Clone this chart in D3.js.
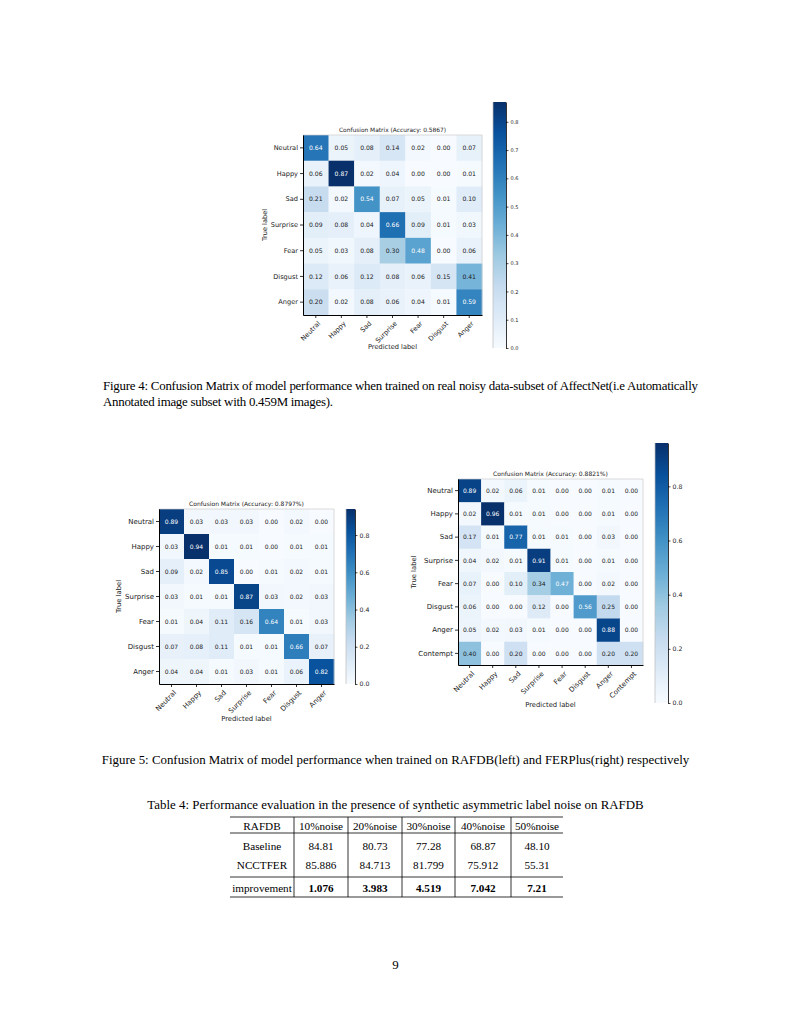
<!DOCTYPE html>
<html>
<head>
<meta charset="utf-8">
<script src="https://cdn.jsdelivr.net/npm/d3@7/dist/d3.min.js"></script>
<style>
  html, body { margin: 0; padding: 0; background: #fff; }
  svg { display: block; }
</style>
</head>
<body>
<svg id="page" width="791" height="1024"></svg>
<script>
// ---------------- DATA ----------------
const labels7 = ["Neutral", "Happy", "Sad", "Surprise", "Fear", "Disgust", "Anger"];
const labels8 = ["Neutral", "Happy", "Sad", "Surprise", "Fear", "Disgust", "Anger", "Contempt"];

const affectnetTitle = "Confusion Matrix (Accuracy: 0.5867)";
const affectnetValues = [
  [0.64, 0.05, 0.08, 0.14, 0.02, 0.00, 0.07],
  [0.06, 0.87, 0.02, 0.04, 0.00, 0.00, 0.01],
  [0.21, 0.02, 0.54, 0.07, 0.05, 0.01, 0.10],
  [0.09, 0.08, 0.04, 0.66, 0.09, 0.01, 0.03],
  [0.05, 0.03, 0.08, 0.30, 0.48, 0.00, 0.06],
  [0.12, 0.06, 0.12, 0.08, 0.06, 0.15, 0.41],
  [0.20, 0.02, 0.08, 0.06, 0.04, 0.01, 0.59]
];
const affectnetColorbarTicks = [0.0, 0.1, 0.2, 0.3, 0.4, 0.5, 0.6, 0.7, 0.8];

const rafdbTitle = "Confusion Matrix (Accuracy: 0.8797%)";
const rafdbValues = [
  [0.89, 0.03, 0.03, 0.03, 0.00, 0.02, 0.00],
  [0.03, 0.94, 0.01, 0.01, 0.00, 0.01, 0.01],
  [0.09, 0.02, 0.85, 0.00, 0.01, 0.02, 0.01],
  [0.03, 0.01, 0.01, 0.87, 0.03, 0.02, 0.03],
  [0.01, 0.04, 0.11, 0.16, 0.64, 0.01, 0.03],
  [0.07, 0.08, 0.11, 0.01, 0.01, 0.66, 0.07],
  [0.04, 0.04, 0.01, 0.03, 0.01, 0.06, 0.82]
];
const rafdbColorbarTicks = [0.0, 0.2, 0.4, 0.6, 0.8];

const ferplusTitle = "Confusion Matrix (Accuracy: 0.8821%)";
const ferplusValues = [
  [0.89, 0.02, 0.06, 0.01, 0.00, 0.00, 0.01, 0.00],
  [0.02, 0.96, 0.01, 0.01, 0.00, 0.00, 0.01, 0.00],
  [0.17, 0.01, 0.77, 0.01, 0.01, 0.00, 0.03, 0.00],
  [0.04, 0.02, 0.01, 0.91, 0.01, 0.00, 0.01, 0.00],
  [0.07, 0.00, 0.10, 0.34, 0.47, 0.00, 0.02, 0.00],
  [0.06, 0.00, 0.00, 0.12, 0.00, 0.56, 0.25, 0.00],
  [0.05, 0.02, 0.03, 0.01, 0.00, 0.00, 0.88, 0.00],
  [0.40, 0.00, 0.20, 0.00, 0.00, 0.00, 0.20, 0.20]
];
const ferplusColorbarTicks = [0.0, 0.2, 0.4, 0.6, 0.8];

const tableCaption = "Table 4: Performance evaluation in the presence of synthetic asymmetric label noise on RAFDB";
const tableHeader = ["RAFDB", "10%noise", "20%noise", "30%noise", "40%noise", "50%noise"];
const tableRowNames = ["Baseline", "NCCTFER", "improvement"];
const tableBaseline = ["84.81", "80.73", "77.28", "68.87", "48.10"];
const tableNcctfer = ["85.886", "84.713", "81.799", "75.912", "55.31"];
const tableImprovement = ["1.076", "3.983", "4.519", "7.042", "7.21"];

const fig4CaptionLine1 = "Figure 4: Confusion Matrix of model performance when trained on real noisy data-subset of AffectNet(i.e Automatically";
const fig4CaptionLine2 = "Annotated image subset with 0.459M images).";
const fig5Caption = "Figure 5: Confusion Matrix of model performance when trained on RAFDB(left) and FERPlus(right) respectively";
const pageNumber = "9";

// ---------------- RENDER ----------------
const svg = d3.select("#page");
svg.append("rect").attr("width", 791).attr("height", 1024).attr("fill", "#fff");

const bluesColors = ["#f7fbff", "#deebf7", "#c6dbef", "#9ecae1", "#6baed6", "#4292c6", "#2171b5", "#08519c", "#08306b"];
const SANS = "'DejaVu Sans', sans-serif";
const SERIF = "'Liberation Serif', 'Times New Roman', serif";
const INK = "#1a1a1a";

let gradId = 0;
function drawMatrix(cfg) {
  const { labels, values, title, ticks } = cfg;
  const vmax = d3.max(values.flat());
  const color = d3.scaleLinear()
    .domain(d3.range(bluesColors.length).map(i => i * vmax / (bluesColors.length - 1)))
    .range(bluesColors)
    .interpolate(d3.interpolateRgb)
    .clamp(true);
  const thresh = cfg.thresh !== undefined ? cfg.thresh : vmax / 2;

  const x = d3.scaleBand().domain(labels).range([cfg.x0, cfg.x1]);
  const y = d3.scaleBand().domain(labels).range([cfg.y0, cfg.y1]);
  const g = svg.append("g");

  const cells = [];
  values.forEach((row, i) => row.forEach((v, j) => cells.push({ r: labels[i], c: labels[j], v })));

  g.selectAll("rect.cell").data(cells).enter().append("rect")
    .attr("class", "cell")
    .attr("x", d => x(d.c)).attr("y", d => y(d.r))
    .attr("width", x.bandwidth() + 0.3).attr("height", y.bandwidth() + 0.3)
    .attr("fill", d => color(d.v));

  g.selectAll("text.val").data(cells).enter().append("text")
    .attr("class", "val")
    .attr("x", d => x(d.c) + x.bandwidth() / 2)
    .attr("y", d => y(d.r) + y.bandwidth() / 2)
    .attr("dy", "0.36em")
    .attr("text-anchor", "middle")
    .attr("font-family", SANS).attr("font-size", cfg.valSize)
    .attr("fill", d => d.v > thresh ? "#fff" : INK)
    .text(d => d.v.toFixed(2));

  // top/right frame (light)
  g.append("path")
    .attr("d", `M${cfg.x0},${cfg.y0}H${cfg.x1}V${cfg.y1}`)
    .attr("fill", "none").attr("stroke", "#ccc").attr("stroke-width", 0.7);

  // left axis
  const ax = g.append("g").attr("transform", `translate(${cfg.x0},0)`)
    .call(d3.axisLeft(y).tickSize(3).tickSizeOuter(0).tickPadding(2));
  ax.select(".domain").attr("stroke", "#000").attr("stroke-width", 1);
  ax.selectAll(".tick line").attr("stroke", "#000").attr("stroke-width", 0.8);
  ax.selectAll(".tick text").attr("font-family", SANS).attr("font-size", cfg.labSize).attr("fill", INK);

  // bottom axis
  const bx = g.append("g").attr("transform", `translate(0,${cfg.y1})`)
    .call(d3.axisBottom(x).tickSize(3).tickSizeOuter(0));
  bx.select(".domain").attr("stroke", "#000").attr("stroke-width", 1);
  bx.selectAll(".tick line").attr("stroke", "#000").attr("stroke-width", 0.8);
  bx.selectAll(".tick text")
    .attr("font-family", SANS).attr("font-size", cfg.labSize).attr("fill", INK)
    .attr("text-anchor", "end")
    .attr("y", 0).attr("dy", 0)
    .attr("transform", `translate(${cfg.labSize * 0.75},${5 + cfg.labSize * 0.6}) rotate(-45)`);

  // title
  g.append("text")
    .attr("x", (cfg.x0 + cfg.x1) / 2).attr("y", cfg.y0 - 3)
    .attr("text-anchor", "middle")
    .attr("font-family", SANS).attr("font-size", cfg.titleSize).attr("fill", INK)
    .text(title);

  // axis labels
  g.append("text")
    .attr("x", (cfg.x0 + cfg.x1) / 2).attr("y", cfg.xlabY)
    .attr("text-anchor", "middle")
    .attr("font-family", SANS).attr("font-size", cfg.axLabSize).attr("fill", INK)
    .text("Predicted label");
  g.append("text")
    .attr("transform", `translate(${cfg.ylabX},${(cfg.y0 + cfg.y1) / 2}) rotate(-90)`)
    .attr("text-anchor", "middle")
    .attr("font-family", SANS).attr("font-size", cfg.axLabSize).attr("fill", INK)
    .text("True label");

  // colorbar
  const id = "cbgrad" + (gradId++);
  const grad = svg.append("defs").append("linearGradient")
    .attr("id", id).attr("x1", 0).attr("y1", 1).attr("x2", 0).attr("y2", 0);
  bluesColors.forEach((c, i) => grad.append("stop")
    .attr("offset", i / (bluesColors.length - 1)).attr("stop-color", c));
  g.append("rect")
    .attr("x", cfg.cbX).attr("y", cfg.cbTop)
    .attr("width", cfg.cbW).attr("height", cfg.cbBottom - cfg.cbTop)
    .attr("fill", `url(#${id})`);
  g.append("path")
    .attr("d", `M${cfg.cbX},${cfg.cbTop}V${cfg.cbBottom}`)
    .attr("stroke", "#bbb").attr("stroke-width", 0.7).attr("fill", "none");
  const cs = d3.scaleLinear().domain([0, vmax]).range([cfg.cbBottom, cfg.cbTop]);
  const cax = g.append("g").attr("transform", `translate(${cfg.cbX + cfg.cbW},0)`)
    .call(d3.axisRight(cs).tickValues(ticks).tickFormat(d3.format(".1f")).tickSize(2.5).tickSizeOuter(0).tickPadding(2));
  cax.select(".domain").attr("stroke", "#000").attr("stroke-width", 0.8);
  cax.selectAll(".tick line").attr("stroke", "#000").attr("stroke-width", 0.7);
  cax.selectAll(".tick text").attr("font-family", SANS).attr("font-size", cfg.cbSize).attr("fill", INK);
}

// Figure 4 (AffectNet)
drawMatrix({
  labels: labels7, values: affectnetValues, title: affectnetTitle, ticks: affectnetColorbarTicks,
  x0: 303, x1: 482, y0: 135, y1: 315,
  valSize: 6.1, labSize: 6.6, titleSize: 5.9, axLabSize: 6.6, cbSize: 5,
  xlabY: 349, ylabX: 267,
  cbX: 493, cbW: 13, cbTop: 102, cbBottom: 348
});

// Figure 5 left (RAFDB)
drawMatrix({
  labels: labels7, values: rafdbValues, title: rafdbTitle, ticks: rafdbColorbarTicks,
  x0: 159, x1: 334, y0: 509, y1: 684,
  valSize: 6.0, labSize: 7.0, titleSize: 6.0, axLabSize: 6.8, cbSize: 6.2,
  xlabY: 721, ylabX: 121,
  cbX: 346, cbW: 9, cbTop: 509, cbBottom: 684
});

// Figure 5 right (FERPlus)
drawMatrix({
  labels: labels8, values: ferplusValues, title: ferplusTitle, ticks: ferplusColorbarTicks,
  x0: 458, x1: 643, y0: 479, y1: 665, thresh: 0.45,
  valSize: 6.0, labSize: 7.0, titleSize: 6.0, axLabSize: 6.8, cbSize: 6.2,
  xlabY: 707, ylabX: 416,
  cbX: 655, cbW: 13, cbTop: 443, cbBottom: 703
});

// ---------------- CAPTIONS ----------------
const capSize = 12.9;
svg.append("text").attr("x", 103).attr("y", 390)
  .attr("font-family", SERIF).attr("font-size", capSize).attr("fill", "#000")
  .attr("textLength", 595).attr("lengthAdjust", "spacing")
  .text(fig4CaptionLine1);
svg.append("text").attr("x", 103).attr("y", 406)
  .attr("font-family", SERIF).attr("font-size", capSize).attr("fill", "#000")
  .attr("textLength", 230).attr("lengthAdjust", "spacing")
  .text(fig4CaptionLine2);
svg.append("text").attr("x", 395.5).attr("y", 764).attr("text-anchor", "middle")
  .attr("font-family", SERIF).attr("font-size", capSize).attr("fill", "#000")
  .text(fig5Caption);
svg.append("text").attr("x", 395.5).attr("y", 809).attr("text-anchor", "middle")
  .attr("font-family", SERIF).attr("font-size", capSize).attr("fill", "#000")
  .text(tableCaption);
svg.append("text").attr("x", 395.5).attr("y", 969).attr("text-anchor", "middle")
  .attr("font-family", SERIF).attr("font-size", capSize).attr("fill", "#000")
  .text(pageNumber);

// ---------------- TABLE ----------------
const colEdges = [230, 294, 348, 402, 455, 511, 563];
const tg = svg.append("g");
const tSize = 11.2;
const rowBaselines = [830, 850, 869, 892];
const rules = [817, 833, 877, 897];
rules.forEach(yv => tg.append("line")
  .attr("x1", colEdges[0]).attr("x2", colEdges[colEdges.length - 1])
  .attr("y1", yv).attr("y2", yv)
  .attr("stroke", "#000").attr("stroke-width", 0.8));
colEdges.slice(1, -1).forEach(xv => tg.append("line")
  .attr("x1", xv).attr("x2", xv).attr("y1", 817).attr("y2", 897)
  .attr("stroke", "#000").attr("stroke-width", 0.8));

const tableRows = [
  { cells: tableHeader, bold: false },
  { cells: [tableRowNames[0], ...tableBaseline], bold: false },
  { cells: [tableRowNames[1], ...tableNcctfer], bold: false },
  { cells: [tableRowNames[2], ...tableImprovement], bold: true }
];
tableRows.forEach((row, ri) => {
  row.cells.forEach((txt, ci) => {
    tg.append("text")
      .attr("x", (colEdges[ci] + colEdges[ci + 1]) / 2)
      .attr("y", rowBaselines[ri])
      .attr("text-anchor", "middle")
      .attr("font-family", SERIF).attr("font-size", tSize).attr("fill", "#000")
      .attr("font-weight", row.bold && ci > 0 ? "bold" : "normal")
      .text(txt);
  });
});
</script>
</body>
</html>
